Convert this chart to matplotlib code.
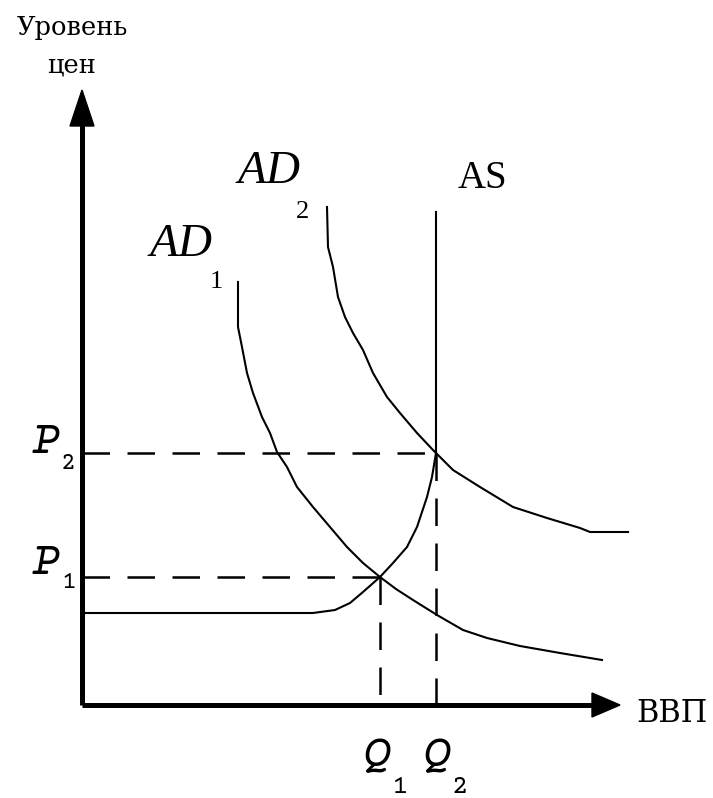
import matplotlib.pyplot as plt

# values are in chart units (origin at the axes crossing, y up)
q1, q2 = 298, 354
p1, p2 = 128, 252

as_x = [0, 231, 253, 268, 281, 298, 311, 325, 335, 345, 350, 354, 354]
as_y = [92, 92, 95, 102, 113, 128, 142, 158, 178, 208, 228, 252, 493]

ad1_x = [156, 156, 160, 165, 171, 180, 188, 195, 205, 215, 231, 248, 265, 281, 298,
         314, 331, 355, 381, 405, 438, 478, 520]
ad1_y = [423, 378, 358, 332, 312, 288, 272, 253, 238, 218, 198, 178, 158, 142, 128,
         116, 105, 90, 75, 67, 59, 52, 45]

ad2_x = [245, 246, 251, 256, 263, 271, 281, 291, 305, 318, 335, 351, 354, 371, 398,
         431, 465, 498, 508, 546]
ad2_y = [498, 458, 438, 408, 388, 372, 355, 332, 308, 292, 272, 255, 252, 235, 218,
         198, 187, 177, 173, 173]

fig = plt.figure(figsize=(7.13, 7.98), dpi=100)
ax = fig.add_axes([0, 0, 1, 1])
ax.set_xlim(-82, 631)
ax.set_ylim(-93, 705)
ax.axis('off')

# axes with arrows
ax.plot([0, 520], [0, 0], color='black', lw=3.6, solid_capstyle='butt')
ax.plot([0, 0], [0, 585], color='black', lw=3.6, solid_capstyle='butt')
ax.arrow(510, 0, 28, 0, width=0.1, head_width=24, head_length=28,
         length_includes_head=True, color='black')
ax.arrow(0, 575, 0, 40, width=0.1, head_width=24, head_length=36,
         length_includes_head=True, color='black')

# curves
ax.plot(as_x, as_y, color='black', lw=1.5)
ax.plot(ad1_x, ad1_y, color='black', lw=1.5)
ax.plot(ad2_x, ad2_y, color='black', lw=1.5)

# dashed guides
dash = dict(color='black', lw=1.8, dashes=(11, 7))
ax.plot([0, q2], [p2, p2], **dash)
ax.plot([0, q1], [p1, p1], **dash)
ax.plot([q1, q1], [p1, 0], **dash)
ax.plot([q2, q2], [p2, 0], **dash)

cyr = ['DejaVu Serif']
cour = ['Courier Prime', 'DejaVu Sans Mono']
serif = ['Liberation Serif', 'DejaVu Serif']

ax.text(-10, 678, 'Уровень', family=cyr, fontsize=18.5, ha='center', va='center')
ax.text(-10, 640, 'цен', family=cyr, fontsize=18.5, ha='center', va='center')
ax.text(554, -17, 'ВВП', family=cyr, fontsize=22, ha='left', va='baseline')

ax.text(68, 449, 'AD', family=serif, style='italic', fontsize=34, va='baseline')
ax.text(128, 417, '1', family=serif, fontsize=19, va='baseline')
ax.text(156, 522, 'AD', family=serif, style='italic', fontsize=34, va='baseline')
ax.text(214, 487, '2', family=serif, fontsize=19, va='baseline')
ax.text(376, 517, 'AS', family=serif, fontsize=28, va='baseline')

ax.text(-50, 252, 'P', family=cour, style='italic', fontsize=34, va='baseline')
ax.text(-21, 236, '2', family=cour, fontsize=18, va='baseline')
ax.text(-50, 131, 'P', family=cour, style='italic', fontsize=34, va='baseline')
ax.text(-21, 117, '1', family=cour, fontsize=18, va='baseline')

ax.text(280, -62, 'Q', family=cour, style='italic', fontsize=34, va='baseline')
ax.text(310, -88, '1', family=cour, fontsize=20, va='baseline')
ax.text(340, -62, 'Q', family=cour, style='italic', fontsize=34, va='baseline')
ax.text(370, -88, '2', family=cour, fontsize=20, va='baseline')

fig.savefig('out.png', dpi=100, facecolor='white')
